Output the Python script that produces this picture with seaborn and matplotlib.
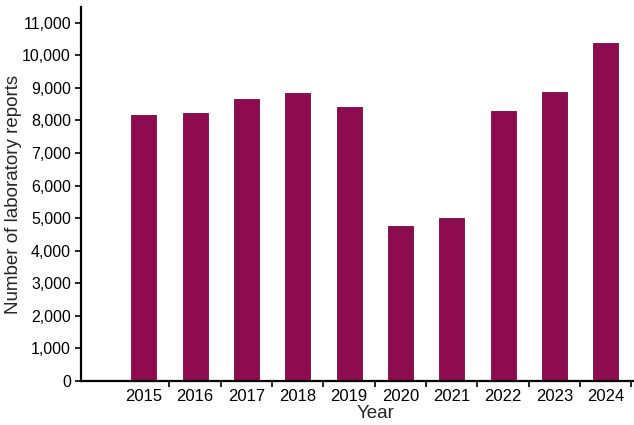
import matplotlib
matplotlib.use("Agg")
import matplotlib.pyplot as plt
import seaborn as sns
import pandas as pd
from matplotlib.ticker import FuncFormatter, FixedLocator

years = ["2015", "2016", "2017", "2018", "2019", "2020", "2021", "2022", "2023", "2024"]
reports = [8180, 8235, 8665, 8840, 8400, 4770, 5000, 8290, 8870, 10370]
y_ticks = list(range(0, 11001, 1000))

df = pd.DataFrame({"Year": years, "Reports": reports})

sns.set_style("ticks")
plt.rcParams["font.family"] = ["Liberation Sans", "DejaVu Sans"]

fig = plt.figure(figsize=(6.34, 4.25), dpi=100)
ax = fig.add_axes([80.7 / 634, 44 / 425, (634 - 80.7) / 634, (381 - 7) / 425])

sns.barplot(data=df, x="Year", y="Reports", order=years, color="#8C0C4F",
            saturation=1, width=0.49, edgecolor="#6E0A3E", linewidth=0.6, ax=ax)

ax.set_xlim(-1.23, 9.55)
ax.set_ylim(0, 11480)
ax.set_yticks(y_ticks)
ax.yaxis.set_major_formatter(FuncFormatter(lambda v, p: f"{int(v):,}"))

ax.xaxis.set_minor_locator(FixedLocator([i + 0.5 for i in range(len(years))]))
ax.tick_params(axis="x", which="major", length=0, pad=6, labelsize=12, colors="black")
ax.tick_params(axis="x", which="minor", length=4, width=1.2, color="black")
ax.tick_params(axis="y", which="major", length=4, width=1.2, pad=3, labelsize=11.5, colors="black")

for s in ["top", "right"]:
    ax.spines[s].set_visible(False)
for s in ["left", "bottom"]:
    ax.spines[s].set_linewidth(1.6)
    ax.spines[s].set_color("black")

ax.set_xlabel("Year", fontsize=13.5)
ax.set_ylabel("Number of laboratory reports", fontsize=13.5)
ax.xaxis.set_label_coords(0.532, -0.064)
ax.yaxis.set_label_coords(-0.106, 0.5)

fig.savefig("out.png", dpi=100)
